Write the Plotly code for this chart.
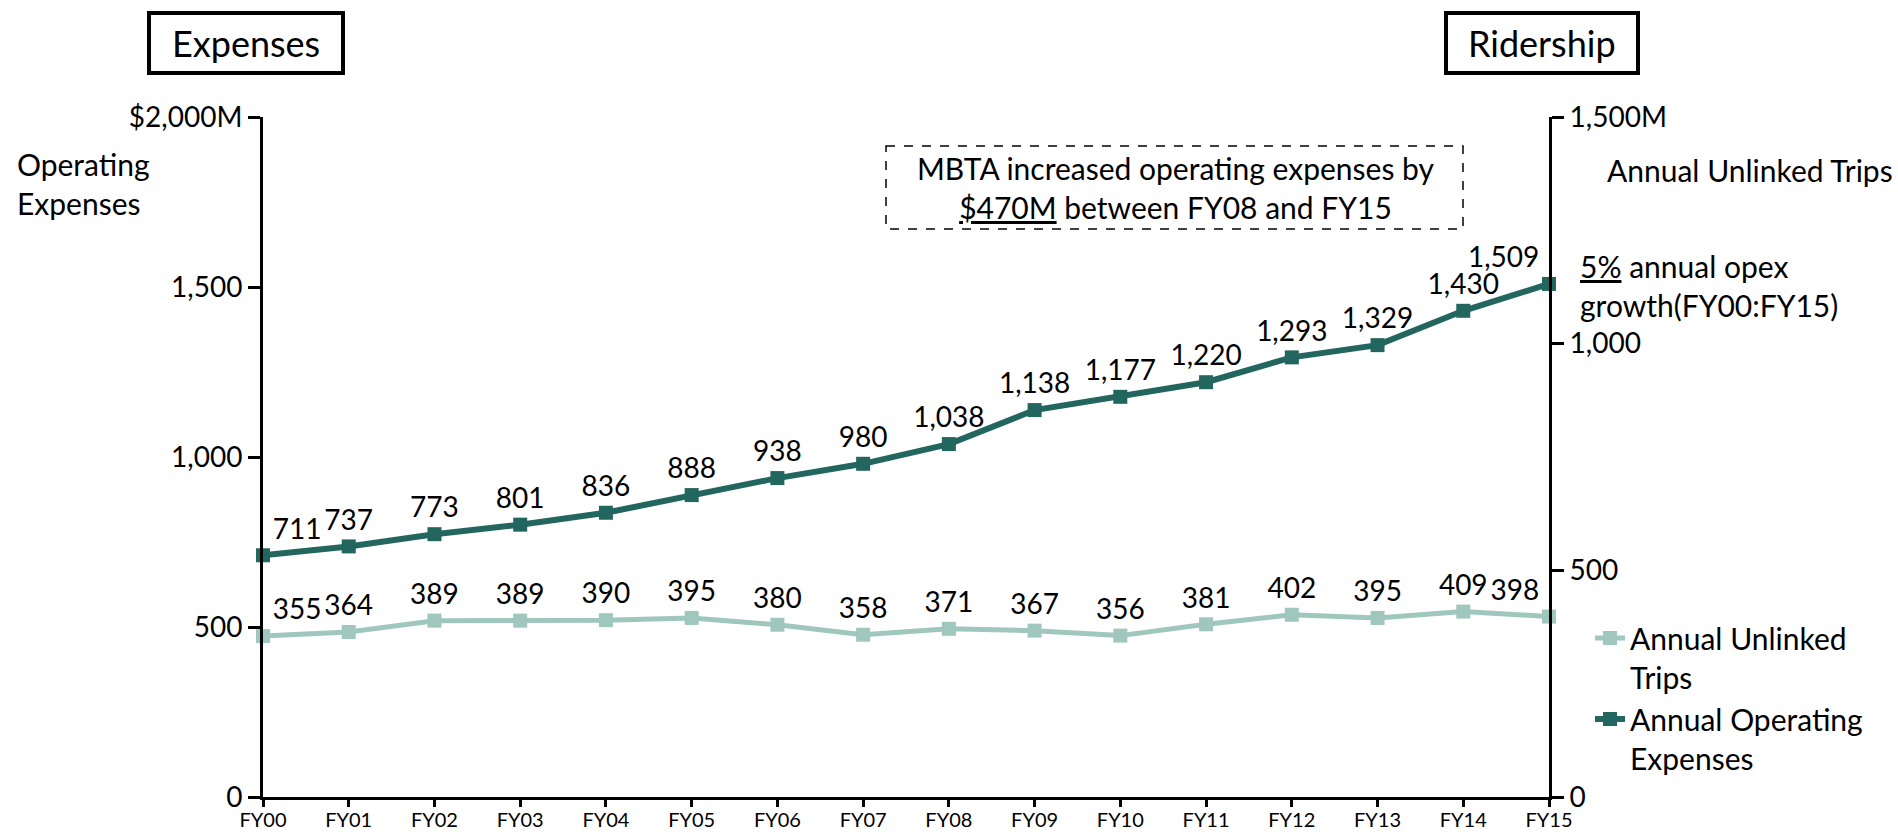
import plotly.graph_objects as go

# ---- data ----
years = ["FY00", "FY01", "FY02", "FY03", "FY04", "FY05", "FY06", "FY07",
         "FY08", "FY09", "FY10", "FY11", "FY12", "FY13", "FY14", "FY15"]
opex = [711, 737, 773, 801, 836, 888, 938, 980, 1038, 1138, 1177, 1220, 1293, 1329, 1430, 1509]
trips = [355, 364, 389, 389, 390, 395, 380, 358, 371, 367, 356, 381, 402, 395, 409, 398]
left_ticks = [0, 500, 1000, 1500, 2000]
left_ticktext = ["0", "500", "1,000", "1,500", "$2,000M"]
right_ticks = [0, 500, 1000, 1500]
right_ticktext = ["0", "500", "1,000", "1,500M"]

DARK = "#22665f"
LIGHT = "#9fc7bd"
FONT = "Lato"
TXT = 30
NUM = 28

W, H = 1898, 833
L, R, T, B = 263, 1549, 117, 797


def px(x):
    return (x - L) / (R - L)


def py(y):
    return (B - y) / (B - T)


def positions(n):
    return ["top right"] + ["top center"] * (n - 2) + ["top left"]


fig = go.Figure()
fig.add_trace(go.Scatter(
    x=years, y=trips, name="Annual Unlinked<br>Trips", yaxis="y2",
    mode="lines+markers+text", text=[f"{v:,}" for v in trips],
    textposition=positions(len(trips)), textfont=dict(size=NUM, color="black", family=FONT),
    line=dict(color=LIGHT, width=5), marker=dict(symbol="square", size=14, color=LIGHT),
    cliponaxis=False,
))
fig.add_trace(go.Scatter(
    x=years, y=opex, name="Annual Operating<br>Expenses", yaxis="y",
    mode="lines+markers+text", text=[f"{v:,}" for v in opex],
    textposition=positions(len(opex)), textfont=dict(size=NUM, color="black", family=FONT),
    line=dict(color=DARK, width=6), marker=dict(symbol="square", size=14, color=DARK),
    cliponaxis=False,
))

axis_common = dict(showline=True, linecolor="black", linewidth=3, showgrid=False,
                   zeroline=False, ticks="outside", tickcolor="black", tickwidth=3,
                   automargin=False)

fig.update_layout(
    width=W, height=H,
    margin=dict(l=L, r=W - R, t=T, b=H - B, pad=0, autoexpand=False),
    paper_bgcolor="white", plot_bgcolor="white",
    font=dict(family=FONT, size=TXT, color="black"),
    xaxis=dict(type="category", range=[0, len(years) - 1], ticklen=7,
               ticklabelstandoff=-4, tickfont=dict(size=20), **axis_common),
    yaxis=dict(range=[0, 2000], tickvals=left_ticks, ticktext=left_ticktext,
               ticklen=12, tickfont=dict(size=NUM), **axis_common),
    yaxis2=dict(range=[0, 1500], tickvals=right_ticks, ticktext=right_ticktext,
                overlaying="y", side="right", ticklen=12, tickfont=dict(size=NUM),
                **axis_common),
    showlegend=True,
    legend=dict(x=px(1590), y=py(612), xanchor="left", yanchor="top",
                valign="top", font=dict(size=TXT), bgcolor="rgba(0,0,0,0)",
                tracegroupgap=4),
)

shapes = [
    dict(type="rect", xref="paper", yref="paper", x0=px(149), x1=px(343), y0=py(13), y1=py(73),
         line=dict(color="black", width=4)),
    dict(type="rect", xref="paper", yref="paper", x0=px(1446), x1=px(1638), y0=py(13), y1=py(73),
         line=dict(color="black", width=4)),
    dict(type="rect", xref="paper", yref="paper", x0=px(886), x1=px(1463), y0=py(146), y1=py(229),
         line=dict(color="black", width=1.5, dash="dash")),
]
fig.update_layout(shapes=shapes)

ann = [
    dict(text="Expenses", x=px(246), y=py(43), xanchor="center", yanchor="middle", font=dict(size=36)),
    dict(text="Ridership", x=px(1542), y=py(43), xanchor="center", yanchor="middle", font=dict(size=36)),
    dict(text="Operating<br>Expenses", x=px(15), y=py(183), xanchor="left", yanchor="middle", align="left"),
    dict(text="Annual Unlinked Trips", x=px(1605), y=py(170), xanchor="left", yanchor="middle"),
    dict(text="MBTA increased operating expenses by<br><u>$470M</u> between FY08 and FY15",
         x=px(1175), y=py(188), xanchor="center", yanchor="middle", align="center"),
    dict(text="<u>5%</u> annual opex<br>growth(FY00:FY15)", x=px(1578), y=py(285),
         xanchor="left", yanchor="middle", align="left"),
]
for a in ann:
    a.update(xref="paper", yref="paper", showarrow=False)
    a.setdefault("font", dict(size=TXT))
fig.update_layout(annotations=ann)

fig.write_html("out.html", config={"displayModeBar": False},
               post_script="document.body.style.margin='0';")
